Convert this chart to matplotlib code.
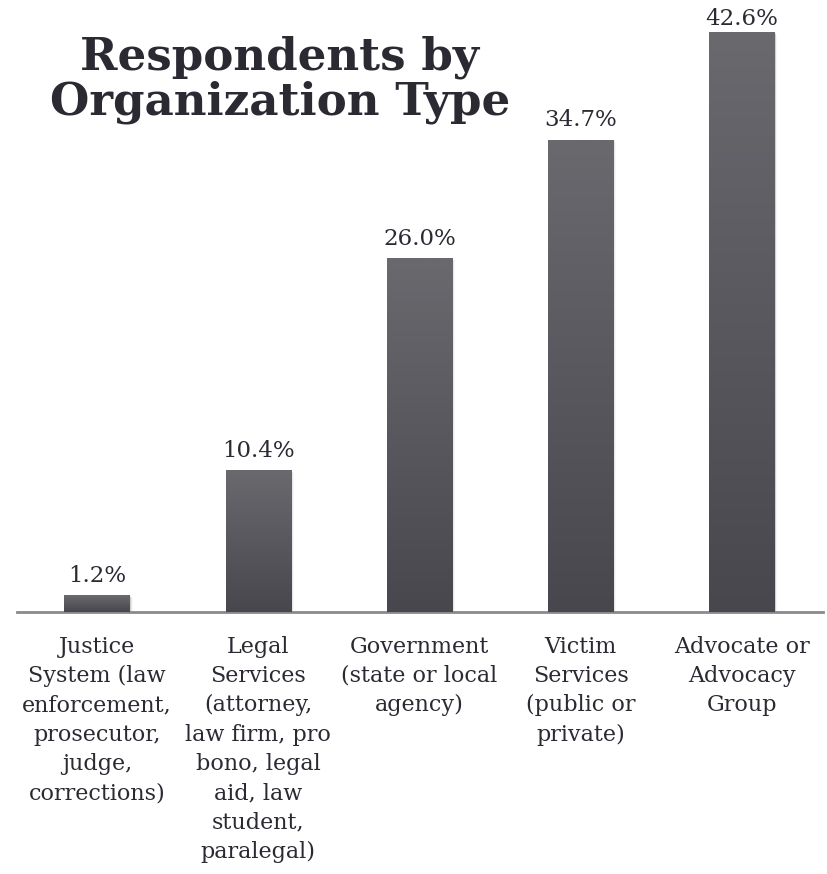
import numpy as np
import matplotlib.pyplot as plt
from matplotlib.colors import LinearSegmentedColormap

# data
categories = [
    "Justice\nSystem (law\nenforcement,\nprosecutor,\njudge,\ncorrections)",
    "Legal\nServices\n(attorney,\nlaw firm, pro\nbono, legal\naid, law\nstudent,\nparalegal)",
    "Government\n(state or local\nagency)",
    "Victim\nServices\n(public or\nprivate)",
    "Advocate or\nAdvocacy\nGroup",
]
values = [1.2, 10.4, 26.0, 34.7, 42.6]
value_labels = ["1.2%", "10.4%", "26.0%", "34.7%", "42.6%"]

text_color = "#2b2a33"
serif = ["DejaVu Serif"]

fig = plt.figure(figsize=(8.28, 8.74), dpi=100, facecolor="white")
ax = fig.add_axes([16.5 / 828, 262 / 874, 806 / 828, 612 / 874])
ax.set_xlim(-0.5, 4.5)
ax.set_ylim(0, 45)

x = np.arange(len(values))
width = 0.405
bars = ax.bar(x, values, width=width, color="none", zorder=3)

# gradient fill + soft shadow for each bar
cmap = LinearSegmentedColormap.from_list("bar", ["#48474e", "#6a696e"])
grad = np.linspace(0, 1, 256).reshape(-1, 1)
for b in bars:
    x0, y0 = b.get_x(), b.get_y()
    w, h = b.get_width(), b.get_height()
    for i, a in enumerate([0.10, 0.06, 0.03]):
        off = 0.006 * (i + 1)
        ax.add_patch(plt.Rectangle((x0 + off, y0), w, h - 0.05 * (i + 1),
                                   color="black", alpha=a, lw=0, zorder=2))
    ax.imshow(grad, extent=(x0, x0 + w, y0, y0 + h), origin="lower",
              cmap=cmap, aspect="auto", zorder=3)

# value labels (the tallest one is pushed down to stay inside the figure)
for xi, v, lab in zip(x, values, value_labels):
    ax.text(xi, min(v + 0.65, 42.8), lab, ha="center", va="bottom",
            fontsize=16.5, color=text_color, family=serif)

for s in ["top", "right", "left"]:
    ax.spines[s].set_visible(False)
ax.spines["bottom"].set_color("#8a8a8a")
ax.spines["bottom"].set_linewidth(2)
ax.set_yticks([])
ax.set_xticks(x)
ax.set_xticklabels(categories, fontsize=16, color=text_color, family=serif,
                   linespacing=1.43, va="top")
ax.tick_params(axis="x", length=0, pad=17)

fig.text(280 / 828, 1 - 80 / 874, "Respondents by\nOrganization Type",
         ha="center", va="center", fontsize=32.5, fontweight="bold",
         color=text_color, family=serif, linespacing=1.05)

fig.savefig("out.png", dpi=100, facecolor="white")
